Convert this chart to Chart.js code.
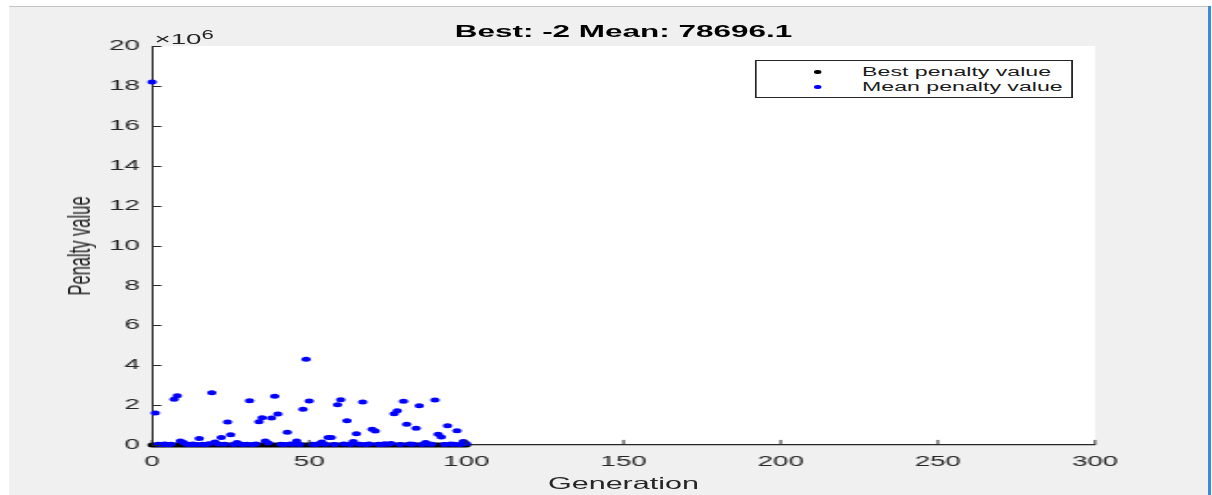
<!DOCTYPE html>
<html>
<head>
<meta charset="utf-8">
<script src="https://cdn.jsdelivr.net/npm/chart.js@4"></script>
<style>
  html, body { margin: 0; padding: 0; background: #fff; }
  body { width: 1212px; height: 495px; position: relative; overflow: hidden; font-family: "Liberation Sans", Arial, sans-serif; }
  /* the figure was exported squashed, then stretched wide; mimic by scaling X */
  #fig { position: absolute; left: 0; top: 0; width: 655px; height: 495px; transform: scaleX(1.85); transform-origin: 0 0; }
  #panel { position: absolute; left: 5.4px; top: 6px; width: 647.6px; height: 489px; background: #f0f0f0; border-top: 1px solid #c4c4c4; }
  #chart { position: absolute; left: 0; top: 0; width: 655px; height: 495px; }
  .txt { position: absolute; color: #262626; white-space: nowrap; }
  #title { left: 337px; top: 23px; font-size: 17px; line-height: 17px; font-weight: bold; color: #000; transform: translateX(-50%); }
  #exp { left: 83.5px; top: 31px; font-size: 15px; line-height: 15px; }
  #exp sup { font-size: 12px; position: relative; top: -5px; vertical-align: baseline; }
  #xlabel { left: 337px; top: 475px; font-size: 16.5px; line-height: 17px; transform: translateX(-50%); }
  #ylabel { left: 43.2px; top: 245.5px; font-size: 16.5px; line-height: 17px; transform: translate(-50%, -50%) rotate(-90deg); }
  #legend { position: absolute; left: 408px; top: 60px; width: 170px; height: 36px; background: #fff; border: 1px solid #262626; }
  .row { position: absolute; left: 0; height: 14px; font-size: 12.5px; line-height: 14px; color: #1a1a1a; }
  .row .dot { position: absolute; left: 31.3px; top: 5.2px; width: 3.4px; height: 3.4px; border-radius: 50%; }
  .row span.lab { position: absolute; left: 57px; top: 0; white-space: nowrap; }
  #edge { position: absolute; left: 1208px; top: 6px; width: 3px; height: 489px; background: #3a8be0; }
</style>
</head>
<body>
<div id="fig">
  <div id="panel"></div>
  <canvas id="chart" width="655" height="495"></canvas>
  <div class="txt" id="title">Best: -2 Mean: 78696.1</div>
  <div class="txt" id="exp">&times;10<sup>6</sup></div>
  <div class="txt" id="xlabel">Generation</div>
  <div class="txt" id="ylabel">Penalty value</div>
  <div id="legend">
    <div class="row" style="top:4px"><div class="dot" style="background:#000"></div><span class="lab">Best penalty value</span></div>
    <div class="row" style="top:19px"><div class="dot" style="background:#0000ff"></div><span class="lab">Mean penalty value</span></div>
  </div>
</div>
<div id="edge"></div>
<script>
// penalty values in units of 1e6, one per generation (0..100)
const meanPenalty = [
  18.2, 1.6, 0.04, 0.03, 0.05, 0.02, 0.04, 2.29, 2.47, 0.2,
  0.12, 0.04, 0.03, 0.05, 0.02, 0.33, 0.04, 0.03, 0.06, 2.62,
  0.15, 0.05, 0.38, 0.04, 1.15, 0.52, 0.03, 0.12, 0.05, 0.02,
  0.04, 2.22, 0.03, 0.05, 1.17, 1.37, 0.2, 0.1, 1.35, 2.44,
  1.55, 0.04, 0.03, 0.64, 0.05, 0.04, 0.2, 0.03, 1.79, 4.3,
  2.2, 0.04, 0.03, 0.06, 0.15, 0.04, 0.37, 0.38, 0.03, 2.02,
  2.27, 0.05, 1.22, 0.03, 0.17, 0.57, 0.04, 2.16, 0.03, 0.05,
  0.79, 0.7, 0.04, 0.03, 0.06, 0.04, 0.08, 1.57, 1.72, 0.03,
  2.19, 1.04, 0.05, 0.04, 0.84, 1.97, 0.03, 0.13, 0.05, 0.04,
  2.26, 0.54, 0.4, 0.03, 0.97, 0.05, 0.04, 0.72, 0.03, 0.17,
  0.0787
];
const bestPenalty = [
  -2e-6, -2e-6, -2e-6, -2e-6, -2e-6, -2e-6, -2e-6, -2e-6, -2e-6, -2e-6,
  -2e-6, -2e-6, -2e-6, -2e-6, -2e-6, -2e-6, -2e-6, -2e-6, -2e-6, -2e-6,
  -2e-6, -2e-6, -2e-6, -2e-6, -2e-6, -2e-6, -2e-6, -2e-6, -2e-6, -2e-6,
  -2e-6, -2e-6, -2e-6, -2e-6, -2e-6, -2e-6, -2e-6, -2e-6, -2e-6, -2e-6,
  -2e-6, -2e-6, -2e-6, -2e-6, -2e-6, -2e-6, -2e-6, -2e-6, -2e-6, -2e-6,
  -2e-6, -2e-6, -2e-6, -2e-6, -2e-6, -2e-6, -2e-6, -2e-6, -2e-6, -2e-6,
  -2e-6, -2e-6, -2e-6, -2e-6, -2e-6, -2e-6, -2e-6, -2e-6, -2e-6, -2e-6,
  -2e-6, -2e-6, -2e-6, -2e-6, -2e-6, -2e-6, -2e-6, -2e-6, -2e-6, -2e-6,
  -2e-6, -2e-6, -2e-6, -2e-6, -2e-6, -2e-6, -2e-6, -2e-6, -2e-6, -2e-6,
  -2e-6, -2e-6, -2e-6, -2e-6, -2e-6, -2e-6, -2e-6, -2e-6, -2e-6, -2e-6,
  -2e-6
];
const xTicks = [0, 50, 100, 150, 200, 250, 300];
const yTicks = [0, 2, 4, 6, 8, 10, 12, 14, 16, 18, 20];

const FONT = '"Liberation Sans", Arial, sans-serif';
const AXIS = '#262626';

const meanPts = meanPenalty.map((v, i) => ({ x: i, y: v }));
const bestPts = bestPenalty.map((v, i) => ({ x: i, y: v }));

// white axes background
const axesBg = {
  id: 'axesBg',
  beforeDraw(chart) {
    const { ctx, chartArea: a } = chart;
    ctx.save();
    ctx.fillStyle = '#fff';
    ctx.fillRect(a.left, a.top, a.right - a.left, a.bottom - a.top);
    ctx.restore();
  }
};

// MATLAB style ticks pointing into the axes
const innerTicks = {
  id: 'innerTicks',
  afterDatasetsDraw(chart) {
    const { ctx, chartArea: a, scales } = chart;
    ctx.save();
    ctx.strokeStyle = AXIS;
    ctx.lineWidth = 1;
    ctx.beginPath();
    scales.y.ticks.forEach(t => {
      const py = Math.round(scales.y.getPixelForValue(t.value)) + 0.5;
      ctx.moveTo(a.left, py);
      ctx.lineTo(a.left + 5.1, py);
    });
    scales.x.ticks.forEach(t => {
      const px = scales.x.getPixelForValue(t.value);
      ctx.moveTo(px, a.bottom);
      ctx.lineTo(px, a.bottom - 5.1);
    });
    ctx.stroke();
    ctx.restore();
  }
};

new Chart(document.getElementById('chart').getContext('2d'), {
  type: 'scatter',
  data: {
    datasets: [
      { label: 'Best penalty value', data: bestPts, backgroundColor: '#000', borderColor: '#000',
        pointRadius: 2.5, pointBorderWidth: 0, order: 1, clip: false },
      { label: 'Mean penalty value', data: meanPts, backgroundColor: '#0000ff', borderColor: '#0000ff',
        pointRadius: 2.5, pointBorderWidth: 0, order: 0, clip: false }
    ]
  },
  options: {
    responsive: false,
    animation: false,
    events: [],
    layout: { padding: { top: 46, right: 63.1, left: 0, bottom: 0 } },
    plugins: { legend: { display: false }, tooltip: { enabled: false }, title: { display: false } },
    scales: {
      x: {
        type: 'linear', min: 0, max: 300,
        afterBuildTicks: s => { s.ticks = xTicks.map(v => ({ value: v })); },
        ticks: { color: AXIS, font: { family: FONT, size: 15 }, padding: 8, maxRotation: 0, autoSkip: false },
        grid: { display: true, drawOnChartArea: false, drawTicks: false },
        border: { color: AXIS, width: 1.2 },
        afterFit: s => { s.height = 50; }
      },
      y: {
        type: 'linear', min: 0, max: 20,
        afterBuildTicks: s => { s.ticks = yTicks.map(v => ({ value: v })); },
        ticks: { color: AXIS, font: { family: FONT, size: 15 }, padding: 6.5, autoSkip: false },
        grid: { display: true, drawOnChartArea: false, drawTicks: false },
        border: { color: AXIS, width: 1 },
        afterFit: s => { s.width = 82.2; }
      }
    }
  },
  plugins: [axesBg, innerTicks]
});
</script>
</body>
</html>
